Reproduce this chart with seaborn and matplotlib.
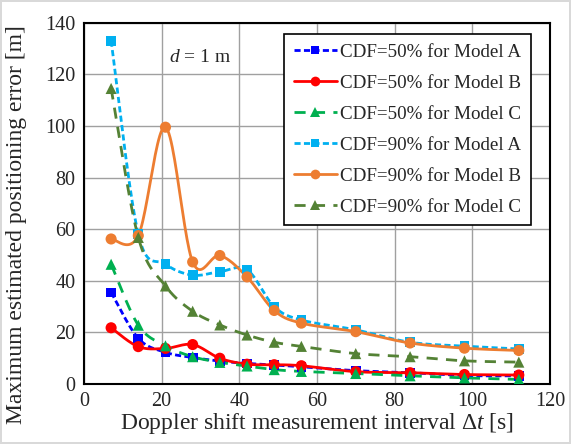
import numpy as np
import matplotlib
matplotlib.use("Agg")
import matplotlib.pyplot as plt
import seaborn as sns
from matplotlib.lines import Line2D

# intervalli di misura (s)
intervals = [7, 14, 21, 28, 35, 42, 49, 56, 70, 84, 98, 112]

# CDF=50%
cdf50_a = [35.5, 17.7, 12.3, 10.3, 8.9, 8.0, 7.4, 6.7, 5.2, 4.4, 3.3, 3.2]
cdf50_b = [21.8, 14.5, 13.8, 15.3, 10.0, 7.7, 7.5, 7.1, 4.8, 4.4, 3.7, 3.5]
cdf50_c = [46.4, 22.8, 14.8, 10.6, 8.4, 7.0, 5.6, 4.9, 4.1, 3.2, 2.4, 1.8]

# CDF=90%
cdf90_a = [133.0, 58.0, 46.5, 42.2, 43.5, 44.3, 30.0, 24.8, 21.0, 16.2, 14.7, 13.6]
cdf90_b = [56.2, 57.5, 99.5, 47.3, 49.8, 41.5, 28.5, 23.6, 20.3, 15.9, 13.9, 13.0]
cdf90_c = [114.5, 56.8, 38.0, 28.2, 22.9, 19.0, 16.2, 14.6, 11.8, 10.6, 9.0, 8.5]

labels = ["CDF=50% for Model A", "CDF=50% for Model B", "CDF=50% for Model C",
          "CDF=90% for Model A", "CDF=90% for Model B", "CDF=90% for Model C"]


def smooth(x, y, n=24):
    # curva liscia tipo Excel (bezier cubica passante per i punti)
    pts = np.column_stack([x, y]).astype(float)
    p = np.vstack([pts[0], pts, pts[-1]])
    out = []
    t = np.linspace(0, 1, n, endpoint=False)[:, None]
    for i in range(1, len(p) - 2):
        p0, p1, p2, p3 = p[i - 1], p[i], p[i + 1], p[i + 2]
        c1 = p1 + (p2 - p0) / 6
        c2 = p2 - (p3 - p1) / 6
        out.append((1 - t) ** 3 * p1 + 3 * (1 - t) ** 2 * t * c1
                   + 3 * (1 - t) * t ** 2 * c2 + t ** 3 * p2)
    out.append(pts[-1:])
    s = np.vstack(out)
    return s[:, 0], s[:, 1]


sns.set_style("whitegrid")
plt.rcParams['font.family'] = ['Liberation Serif', 'DejaVu Serif']
plt.rcParams['mathtext.fontset'] = 'custom'
plt.rcParams['mathtext.rm'] = 'Liberation Serif'
plt.rcParams['mathtext.it'] = 'Liberation Serif:italic'

fig = plt.figure(figsize=(5.71, 4.44), dpi=100)
fig.patch.set_edgecolor('#d9d9d9')
fig.patch.set_linewidth(1.5)
ax = fig.add_axes([0.147, 0.135, 0.816, 0.814])

series = [cdf50_a, cdf50_b, cdf50_c, cdf90_a, cdf90_b, cdf90_c]
colors = ['#0000FF', '#FF0000', '#00B050', '#00B0F0', '#ED7D31', '#548235']
styles = [(0, (2.2, 1.2)), '-', (0, (4, 3)), (0, (2.2, 1.2)), '-', (0, (4, 3))]
markers = ['s', 'o', '^', 's', 'o', '^']
msizes = [7, 8, 8, 7, 8, 8]

handles = []
for vals, col, ls, mk, ms, lab in zip(series, colors, styles, markers, msizes, labels):
    sx, sy = smooth(intervals, vals)
    ax.plot(sx, sy, color=col, linestyle=ls, linewidth=2, zorder=3)
    sns.scatterplot(x=intervals, y=vals, ax=ax, color=col, marker=mk, s=ms ** 2,
                    edgecolor='none', zorder=4, legend=False)
    handles.append(Line2D([], [], color=col, linestyle=ls, linewidth=2, marker=mk,
                          markersize=ms - 1, markeredgewidth=0, label=lab))

ax.set_xlim(0, 120)
ax.set_ylim(0, 140)
ax.set_xticks(range(0, 121, 20))
ax.set_yticks(range(0, 141, 20))
ax.grid(True, color='#a0a0a0', linewidth=1)
for sp in ax.spines.values():
    sp.set_color('black')
    sp.set_linewidth(1.5)
ax.tick_params(labelsize=14.5, length=0, pad=6)

ax.set_xlabel(r"Doppler shift measurement interval $\Delta t$ [s]", fontsize=17, labelpad=0)
ax.set_ylabel("Maximum estimated positioning error [m]", fontsize=17)
ax.yaxis.set_label_coords(-0.122, 0.44)

ax.text(30, 126.5, r"$d$ = 1 m", fontsize=14, ha='center', va='center')

leg = ax.legend(handles=handles, loc='upper right', bbox_to_anchor=(0.959, 0.969),
                borderaxespad=0, fontsize=13.7, frameon=True, fancybox=False,
                framealpha=1, edgecolor='black', handlelength=2.3, handletextpad=0.15,
                labelspacing=0.72, borderpad=0.5)
leg.get_frame().set_linewidth(1.2)

plt.savefig('out.png', dpi=100)
